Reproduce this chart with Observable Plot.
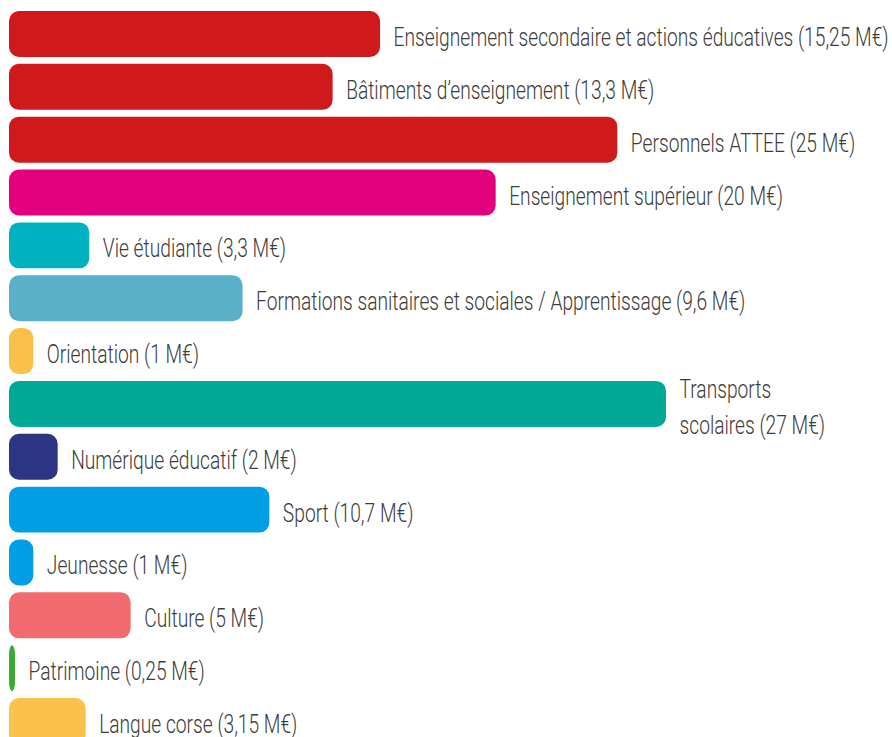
<!DOCTYPE html>
<html>
<head>
<meta charset="utf-8">
<script src="https://cdn.jsdelivr.net/npm/d3@7"></script>
<script src="https://cdn.jsdelivr.net/npm/@observablehq/plot@0.6"></script>
<style>
  html, body { margin: 0; padding: 0; background: #fff; overflow: hidden; }
  svg text { font-family: "Roboto", "Liberation Sans", sans-serif; font-weight: 300; }
</style>
</head>
<body>
<div id="chart"></div>
<script>
const categories = [
  "Enseignement secondaire et actions éducatives",
  "Bâtiments d'enseignement",
  "Personnels ATTEE",
  "Enseignement supérieur",
  "Vie étudiante",
  "Formations sanitaires et sociales / Apprentissage",
  "Orientation",
  "Transports scolaires",
  "Numérique éducatif",
  "Sport",
  "Jeunesse",
  "Culture",
  "Patrimoine",
  "Langue corse"
];
const values = [15.25, 13.3, 25, 20, 3.3, 9.6, 1, 27, 2, 10.7, 1, 5, 0.25, 3.15];
const labels = [
  "Enseignement secondaire et actions éducatives (15,25 M€)",
  "Bâtiments d’enseignement (13,3 M€)",
  "Personnels ATTEE (25 M€)",
  "Enseignement supérieur (20 M€)",
  "Vie étudiante (3,3 M€)",
  "Formations sanitaires et sociales / Apprentissage (9,6 M€)",
  "Orientation (1 M€)",
  "Transports\nscolaires (27 M€)",
  "Numérique éducatif (2 M€)",
  "Sport (10,7 M€)",
  "Jeunesse (1 M€)",
  "Culture (5 M€)",
  "Patrimoine (0,25 M€)",
  "Langue corse (3,15 M€)"
];
const colors = [
  "#cf191b", "#cf191b", "#cf191b", "#e3007e", "#00b2bf", "#5aafc9", "#fcc04a",
  "#00a996", "#2b3583", "#009fe3", "#009fe3", "#f26b6f", "#3ca935", "#fdc04a"
];

const data = categories.map((c, i) => ({category: c, value: values[i], label: labels[i], color: colors[i]}));

const chart = Plot.plot({
  width: 892,
  height: 737,
  margin: 0,
  x: {domain: [0, 27], range: [9, 666], axis: null},
  y: {domain: categories, range: [11, 744], paddingInner: 0.13, paddingOuter: 0, round: false, axis: null},
  marks: [
    Plot.barX(data, {x: "value", y: "category", fill: "color", rx: 10}),
    Plot.text(data, {
      x: "value", y: "category", text: "label",
      textAnchor: "start", dx: 13, dy: 0,
      fontSize: 26, fill: "#3c3c3b", lineHeight: 1.38
    })
  ]
});
document.getElementById("chart").appendChild(chart);

// condense the labels horizontally (the reference uses a condensed typeface)
const texts = Array.from(chart.querySelectorAll("text"));
const firstLen = texts[0].getComputedTextLength();
const k = 495 / firstLen;
texts.forEach(t => {
  const spans = t.querySelectorAll("tspan");
  const parts = spans.length ? Array.from(spans) : [t];
  parts.forEach(p => {
    const len = p.getComputedTextLength();
    p.setAttribute("textLength", len * k);
    p.setAttribute("lengthAdjust", "spacingAndGlyphs");
  });
});
</script>
</body>
</html>
